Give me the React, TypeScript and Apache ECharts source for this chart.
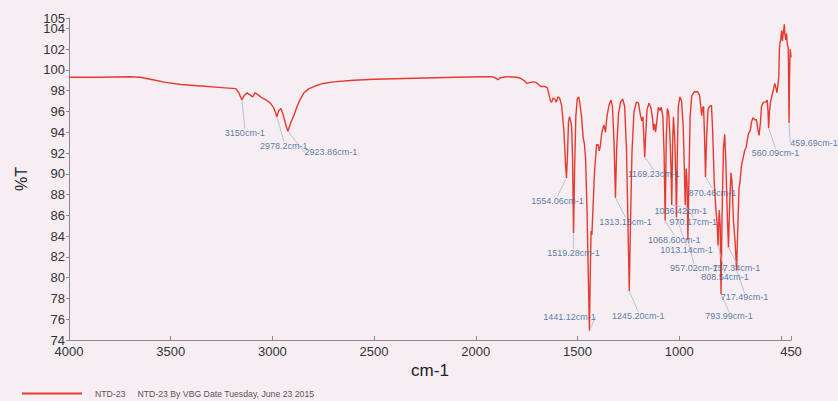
import React, { useEffect, useRef } from "react";
import * as echarts from "echarts";

// Spectrum: wavenumber (cm-1) and transmittance (%T)
const wavenumbers = [
  4000, 3850, 3700, 3650, 3600, 3525, 3450, 3350, 3250, 3180,
  3165, 3150, 3140, 3125, 3110, 3097, 3085, 3070, 3050, 3030,
  3010, 2995, 2985, 2978.2, 2968, 2958, 2946, 2935, 2923.86, 2910,
  2895, 2880, 2865, 2845, 2820, 2790, 2750, 2700, 2600, 2500,
  2400, 2300, 2200, 2100, 1965, 1920, 1900, 1891, 1880, 1850,
  1800, 1780, 1760, 1749, 1730, 1715, 1700, 1680, 1660, 1648,
  1640, 1632, 1626, 1620, 1612, 1604, 1596, 1588, 1578, 1566,
  1559, 1554.06, 1549, 1544, 1539, 1534, 1529, 1524, 1519.28, 1514,
  1508, 1501, 1494, 1488, 1480, 1472, 1466, 1460, 1453, 1447,
  1441.12, 1437, 1433, 1429, 1424, 1416, 1406, 1398, 1393, 1388,
  1380, 1370, 1362, 1355, 1345, 1335, 1328, 1320, 1313.15, 1307,
  1298, 1288, 1278, 1268, 1259, 1251, 1245.2, 1240, 1232, 1222,
  1210, 1200, 1190, 1184, 1178, 1173, 1169.23, 1165, 1158, 1148,
  1138, 1130, 1126, 1121, 1116, 1110, 1102, 1094, 1088, 1080,
  1074, 1068.6, 1063, 1058, 1051, 1045, 1040, 1036.42, 1032, 1028,
  1022, 1017, 1013.14, 1009, 1004, 996, 988, 980, 975, 970.17,
  965, 961, 957.02, 952, 946, 938, 925, 910, 900, 893,
  889, 885, 880, 875, 870.46, 865, 858, 850, 841, 835,
  827, 819, 813, 808.54, 803, 798, 793.99, 789, 782, 776,
  770, 764, 757.34, 751, 745, 740, 733, 725, 717.49, 712,
  706, 700, 694, 686, 678, 670, 660, 650, 644, 637,
  628, 620, 612, 607, 600, 595, 585, 575, 567, 563,
  560.09, 556, 550, 540, 530, 523, 519, 514, 510, 507,
  504, 500, 496, 492, 488, 485, 483, 480, 476, 472,
  468, 464, 462, 459.69, 457, 454, 451, 450,
];

const transmittance = [
  99.3, 99.3, 99.35, 99.3, 99.1, 98.8, 98.6, 98.45, 98.3, 98.2,
  97.8, 97.1, 97.5, 97.8, 97.6, 97.4, 97.8, 97.6, 97.3, 97.1,
  96.8, 96.4, 95.9, 95.5, 96.1, 96.3, 95.6, 94.8, 94.1, 94.9,
  95.6, 96.4, 97.1, 97.8, 98.2, 98.45, 98.7, 98.85, 99.0, 99.1,
  99.15, 99.2, 99.25, 99.3, 99.35, 99.35, 99.2, 99.05, 99.25, 99.35,
  99.3, 99.2, 98.95, 98.7, 98.8, 98.85, 98.75, 98.4, 98.4, 98.3,
  97.6, 97.0, 96.9, 97.3, 97.2, 96.9, 97.4, 97.3, 96.6, 94.0,
  91.0, 89.6, 91.8, 95.0, 95.5, 95.1, 94.6, 91.5, 84.3, 90.5,
  95.5, 97.2, 97.4, 96.8, 95.5, 93.5, 92.9, 91.5, 86.5, 80.5,
  74.9, 80.5, 84.5, 84.1, 86.5, 90.2, 92.8, 92.8, 92.2, 92.6,
  94.0, 94.7, 94.0, 95.5, 96.6, 97.1, 96.5, 93.0, 87.7, 92.5,
  95.8, 96.9, 97.2, 96.5, 92.5, 84.5, 78.7, 84.5, 92.0, 96.0,
  96.9, 96.8, 95.6, 95.1, 95.5, 93.2, 91.6, 93.5, 96.2, 96.8,
  96.3, 95.2, 94.2, 94.8, 94.0, 95.0, 96.4, 96.1, 96.4, 95.5,
  92.0, 85.5, 93.5, 96.3, 95.8, 93.5, 90.5, 87.0, 93.0, 95.5,
  93.5, 90.0, 85.8, 92.0, 96.5, 97.4, 97.0, 94.5, 91.0, 87.0,
  90.5, 89.0, 83.6, 89.5, 95.5, 97.5, 97.9, 97.9, 97.6, 96.4,
  95.6, 96.3, 96.5, 93.5, 89.7, 93.5, 96.2, 96.5, 96.6, 94.0,
  89.0, 86.5, 85.2, 83.1, 86.5, 85.0, 78.4, 86.0, 92.5, 93.8,
  91.0, 86.5, 82.9, 87.5, 90.1, 89.2, 85.5, 83.5, 80.7, 84.5,
  88.5, 89.4, 90.7, 91.5, 92.2, 92.6, 93.8, 94.2, 95.0, 95.4,
  95.2, 95.2, 94.2, 93.7, 95.0, 96.5, 96.9, 96.9, 97.1, 96.0,
  94.4, 96.0, 97.0, 97.8, 98.7, 98.2, 97.8, 98.6, 99.4, 102.0,
  102.6, 103.0, 103.8, 102.8, 103.6, 104.0, 104.4, 103.4, 102.9, 103.5,
  102.4, 102.2, 100.0, 94.9, 99.5, 102.0, 101.5, 101.2,
];

// Annotated peaks
const peakWavenumbers = [
  3150, 2978.2, 2923.86, 1554.06, 1519.28, 1441.12, 1313.15, 1245.2,
  1169.23, 1036.42, 970.17, 1068.6, 1013.14, 870.46, 957.02, 757.34,
  808.54, 717.49, 793.99, 560.09, 459.69,
];
const peakLabels = [
  "3150cm-1", "2978.2cm-1", "2923.86cm-1", "1554.06cm-1", "1519.28cm-1",
  "1441.12cm-1", "1313.15cm-1", "1245.20cm-1", "1169.23cm-1", "1036.42cm-1",
  "970.17cm-1", "1068.60cm-1", "1013.14cm-1", "870.46cm-1", "957.02cm-1",
  "757.34cm-1", "808.54cm-1", "717.49cm-1", "793.99cm-1", "560.09cm-1",
  "459.69cm-1",
];

// Label placement offsets (px) relative to each peak tip
const peakLabelOffsets: [number, number][] = [
  [3, 33], [7, 29], [43, 21], [-9, 23], [0, 20], [-20, -14], [10, 24],
  [9, 25], [9, 17], [9, 6], [8, 17], [9, 19], [10, 33], [7, 16], [6, 28],
  [8, 20], [7, 32], [8, 27], [8, 22], [7, 25], [25, 20],
];

const xTickValues = [4000, 3500, 3000, 2500, 2000, 1500, 1000, 500, 450];
const xLabelValues = [4000, 3500, 3000, 2500, 2000, 1500, 1000, 450];
const yTickValues = [74, 76, 78, 80, 82, 84, 86, 88, 90, 92, 94, 96, 98, 100, 102, 104, 105];
const yLabelValues = [74, 76, 78, 80, 82, 84, 86, 88, 90, 92, 94, 96, 98, 100, 102, 104];
const yTopLabelValues = [105];

const seriesName = "NTD-23";
const legendNote = "NTD-23 By VBG Date Tuesday, June 23 2015";

const FONT = 'Arial, "Liberation Sans", Helvetica, sans-serif';

export default function App() {
  const ref = useRef<HTMLDivElement>(null);

  useEffect(() => {
    if (!ref.current) return;
    const chart = echarts.init(ref.current, undefined, { renderer: "svg" });

    const spectrum = wavenumbers.map((w, i) => [w, transmittance[i]]);
    const peaks = peakWavenumbers.map((w, i) => {
      const idx = wavenumbers.indexOf(w);
      return { value: [w, transmittance[idx]], name: peakLabels[i] };
    });

    const yLabelStyle = {
      fontSize: 13,
      lineHeight: 8,
      color: "#333",
      margin: 4,
      fontFamily: FONT,
      showMaxLabel: true,
      showMinLabel: true,
      hideOverlap: false,
      formatter: (v: number) => String(v),
    };

    chart.setOption({
      animation: false,
      backgroundColor: "#f6eef3",
      textStyle: { fontFamily: FONT },
      grid: { left: 69, right: 47, top: 18, bottom: 61, containLabel: false },
      legend: {
        data: [seriesName],
        left: 17,
        top: 384,
        itemWidth: 60,
        itemHeight: 2,
        icon: "rect",
        formatter: (name: string) => `${name}     ${legendNote}`,
        textStyle: { fontSize: 8.7, color: "#555", fontFamily: FONT, padding: [0, 0, 0, 8] },
      },
      xAxis: {
        type: "value",
        min: 450,
        max: 4000,
        inverse: true,
        name: "cm-1",
        nameLocation: "middle",
        nameGap: 18,
        nameTextStyle: { fontSize: 17, color: "#222", fontFamily: FONT },
        axisLine: { show: true, lineStyle: { color: "#8a8a8a", width: 1 } },
        axisTick: { show: true, inside: true, length: 4, customValues: xTickValues, lineStyle: { color: "#8a8a8a" } },
        axisLabel: {
          customValues: xLabelValues,
          formatter: (v: number) => String(v),
          fontSize: 13,
          lineHeight: 12,
          color: "#333",
          margin: 5,
          fontFamily: FONT,
          hideOverlap: false,
        },
        splitLine: { show: false },
      },
      yAxis: [
        {
          type: "value",
          min: 74,
          max: 105,
          interval: 2,
          name: "%T",
          nameLocation: "middle",
          nameRotate: 90,
          nameGap: 40,
          nameTextStyle: { fontSize: 16, color: "#222", fontFamily: FONT },
          axisLine: { show: true, lineStyle: { color: "#8a8a8a", width: 1 } },
          axisTick: { show: true, length: 3, customValues: yTickValues, lineStyle: { color: "#8a8a8a" } },
          axisLabel: { ...yLabelStyle, customValues: yLabelValues },
          splitLine: { show: false },
        },
        {
          type: "value",
          min: 74,
          max: 105,
          interval: 2,
          position: "left",
          offset: 0,
          axisLine: { show: false },
          axisTick: { show: false },
          axisLabel: { ...yLabelStyle, customValues: yTopLabelValues },
          splitLine: { show: false },
        },
      ],
      series: [
        {
          name: seriesName,
          type: "line",
          data: spectrum,
          showSymbol: false,
          symbol: "none",
          lineStyle: { color: "#e53b2f", width: 1.4 },
          itemStyle: { color: "#e53b2f" },
          z: 2,
        },
        {
          name: "peaks",
          type: "scatter",
          data: peaks,
          symbol: "circle",
          symbolSize: 1,
          itemStyle: { color: "rgba(0,0,0,0)" },
          z: 3,
          label: {
            show: true,
            position: "inside",
            formatter: (p: any) => p.name,
            fontSize: 9,
            color: "#2f5b93",
            fontFamily: FONT,
          },
          labelLine: {
            show: true,
            lineStyle: { color: "#a9b7c8", width: 0.8 },
          },
          labelLayout: (params: any) => ({
            dx: peakLabelOffsets[params.dataIndex][0],
            dy: peakLabelOffsets[params.dataIndex][1],
            hideOverlap: false,
          }),
        },
      ],
    });

    return () => chart.dispose();
  }, []);

  return (
    <div
      ref={ref}
      style={{ position: "absolute", left: 0, top: 0, width: 838, height: 401, overflow: "hidden" }}
    />
  );
}
